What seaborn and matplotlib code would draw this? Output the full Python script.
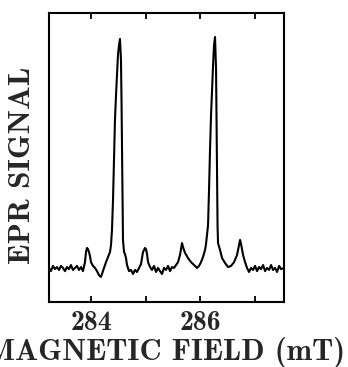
import matplotlib
matplotlib.use("Agg")
import matplotlib.pyplot as plt
import seaborn as sns
import pandas as pd

field_mT = [
    283.229, 283.266, 283.303, 283.339, 283.376, 283.413, 283.450, 283.486, 283.523, 283.560,
    283.596, 283.633, 283.670, 283.706, 283.743, 283.780, 283.817, 283.853, 283.890, 283.908,
    283.927, 283.945, 283.963, 283.982, 284.000, 284.037, 284.073, 284.110, 284.147, 284.183,
    284.202, 284.239, 284.275, 284.312, 284.349, 284.367, 284.385, 284.404, 284.422, 284.440,
    284.459, 284.477, 284.495, 284.514, 284.532, 284.550, 284.560, 284.569, 284.578, 284.587,
    284.606, 284.624, 284.642, 284.661, 284.697, 284.734, 284.771, 284.807, 284.844, 284.881,
    284.917, 284.954, 284.991, 285.009, 285.028, 285.046, 285.083, 285.119, 285.156, 285.193,
    285.229, 285.266, 285.303, 285.339, 285.376, 285.413, 285.450, 285.486, 285.523, 285.560,
    285.596, 285.633, 285.670, 285.688, 285.725, 285.780, 285.835, 285.890, 285.945, 285.982,
    286.018, 286.055, 286.092, 286.110, 286.128, 286.147, 286.165, 286.183, 286.202, 286.220,
    286.239, 286.257, 286.275, 286.294, 286.303, 286.312, 286.321, 286.330, 286.367, 286.404,
    286.459, 286.514, 286.569, 286.624, 286.679, 286.716, 286.734, 286.752, 286.789, 286.826,
    286.862, 286.899, 286.936, 286.972, 287.009, 287.046, 287.083, 287.119, 287.156, 287.193,
    287.229, 287.266, 287.303, 287.339, 287.376, 287.413, 287.450, 287.486, 287.541,
]
epr_signal = [
    11.8, 10.7, 12.5, 11.4, 12.1, 11.1, 12.5, 11.8, 10.7, 12.1,
    11.4, 12.8, 11.1, 11.8, 12.5, 11.1, 12.1, 10.7, 13.8, 17.3,
    18.7, 18.3, 17.3, 15.9, 13.8, 12.5, 11.8, 10.7, 9.3, 8.7,
    9.7, 11.8, 13.8, 15.6, 17.3, 19.7, 24.9, 35.3, 49.1, 63.0,
    71.6, 78.5, 85.5, 88.9, 91.0, 83.7, 69.9, 52.6, 35.3, 21.5,
    17.3, 16.6, 15.2, 12.8, 10.7, 11.1, 9.7, 11.1, 10.4, 11.8,
    13.1, 17.3, 18.7, 18.3, 16.6, 13.8, 12.1, 11.1, 12.5, 10.4,
    11.8, 10.7, 9.7, 11.8, 11.1, 12.5, 10.7, 12.1, 11.8, 12.8,
    13.8, 16.3, 20.4, 19.0, 17.0, 15.2, 13.8, 12.8, 11.8, 12.5,
    13.8, 15.6, 18.0, 20.1, 23.2, 26.6, 38.8, 52.6, 64.7, 73.4,
    82.0, 88.9, 91.7, 80.3, 63.0, 42.2, 26.6, 20.4, 18.0, 15.2,
    13.5, 12.1, 12.5, 13.8, 16.3, 19.7, 21.5, 20.1, 16.3, 13.8,
    11.8, 10.4, 11.8, 11.1, 12.5, 10.7, 12.1, 11.4, 12.8, 10.7,
    11.8, 11.1, 12.8, 11.1, 11.8, 10.4, 12.5, 11.4, 11.8,
]

tick_positions = [284, 285, 286, 287]
tick_labels = ["284", "", "286", ""]

df = pd.DataFrame({"field": field_mT, "signal": epr_signal})

sns.set_style("ticks")
plt.rcParams["font.family"] = ["cmb10", "DejaVu Serif"]
plt.rcParams["axes.unicode_minus"] = False

fig = plt.figure(figsize=(3.48, 3.67), dpi=100)
ax = fig.add_axes([0.1408, 0.177, 0.6753, 0.7877])

sns.lineplot(data=df, x="field", y="signal", ax=ax, color="black",
             linewidth=1.5, sort=False, estimator=None)

ax.set_xlim(283.23, 287.54)
ax.set_ylim(0, 100)
ax.set_xticks(tick_positions)
ax.set_xticklabels(tick_labels, fontsize=20)
ax.set_yticks([])
ax.tick_params(axis="x", direction="in", top=True, length=4, width=1.3,
               pad=6, color="black")

for sp in ax.spines.values():
    sp.set_linewidth(1.5)
    sp.set_color("black")

# label runs past the left edge, as in the source figure
ax.set_xlabel("MAGNETIC FIELD (mT)", fontsize=22)
ax.set_ylabel("EPR SIGNAL", fontsize=22.5)
ax.xaxis.set_label_coords(0.498, -0.12)
ax.yaxis.set_label_coords(-0.055, 0.472)

fig.savefig("out.png", dpi=100)
